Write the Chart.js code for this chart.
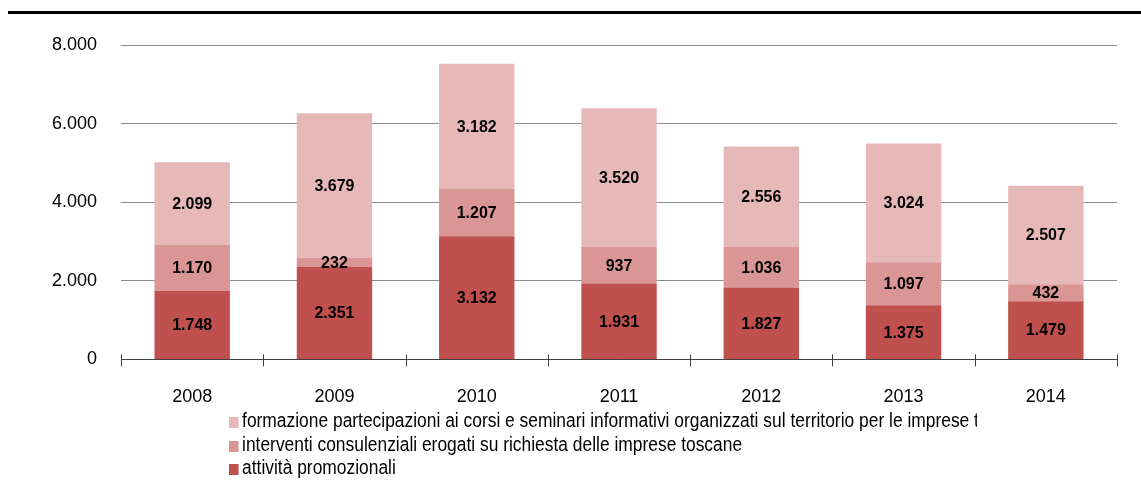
<!DOCTYPE html>
<html>
<head>
<meta charset="utf-8">
<script src="https://cdn.jsdelivr.net/npm/chart.js@4/dist/chart.umd.min.js"></script>
<style>
  body { margin: 0; background: #fff; font-family: "Liberation Sans", Arial, sans-serif; }
  #wrap { position: relative; width: 1141px; height: 482px; overflow: hidden; }
  #topline { position: absolute; left: 8px; top: 11px; width: 1133px; height: 3px; background: #000; }
  #chart { position: absolute; left: 0; top: 0; }
  #legendBox { position: absolute; left: 229px; top: 409px; width: 748px; height: 73px; overflow: hidden; }
  #legend { white-space: nowrap; font-size: 20px; color: #000; transform: scaleX(0.87); transform-origin: 0 0; }
  #legend div { height: 23.5px; line-height: 23.5px; }
  #legend span { display: inline-block; width: 11px; height: 11px; margin-right: 4px; vertical-align: -1px; }
</style>
</head>
<body>
<div id="wrap">
  <canvas id="chart" width="1141" height="482"></canvas>
  <div id="topline"></div>
  <div id="legendBox"><div id="legend"></div></div>
</div>
<script>
const years = ['2008', '2009', '2010', '2011', '2012', '2013', '2014'];
const promozionali = [1748, 2351, 3132, 1931, 1827, 1375, 1479];
const consulenze = [1170, 232, 1207, 937, 1036, 1097, 432];
const formazione = [2099, 3679, 3182, 3520, 2556, 3024, 2507];
const yTicks = [0, 2000, 4000, 6000, 8000];

const labelPromo = 'attività promozionali';
const labelCons = 'interventi consulenziali erogati su richiesta delle imprese toscane';
const labelForm = 'formazione partecipazioni ai corsi e seminari informativi organizzati sul territorio per le imprese toscane';

const FONT = '"Liberation Sans", Arial, sans-serif';

function fmt(v) {
  return String(v).replace(/\B(?=(\d{3})+(?!\d))/g, '.');
}

// draws the value in the middle of each segment
const segmentLabels = {
  id: 'segmentLabels',
  afterDatasetsDraw(chart) {
    const ctx = chart.ctx;
    ctx.save();
    ctx.font = 'bold 16px ' + FONT;
    ctx.fillStyle = '#000';
    ctx.textAlign = 'center';
    ctx.textBaseline = 'middle';
    chart.data.datasets.forEach((ds, i) => {
      chart.getDatasetMeta(i).data.forEach((bar, j) => {
        const mid = (bar.y + bar.base) / 2;
        ctx.fillText(fmt(ds.data[j]), bar.x, mid + 1);
      });
    });
    ctx.restore();
  }
};

// tick marks on the x axis crossing the axis line
const axisTicks = {
  id: 'axisTicks',
  afterDraw(chart) {
    const x = chart.scales.x, y = chart.scales.y;
    const ctx = chart.ctx;
    const base = y.getPixelForValue(0);
    ctx.save();
    ctx.strokeStyle = '#404040';
    ctx.lineWidth = 1;
    for (let i = 0; i <= years.length; i++) {
      const px = Math.round(x.left + (x.right - x.left) * i / years.length) + 0.5;
      ctx.beginPath();
      ctx.moveTo(px, base - 5);
      ctx.lineTo(px, base + 7);
      ctx.stroke();
    }
    ctx.restore();
  }
};

new Chart(document.getElementById('chart'), {
  type: 'bar',
  data: {
    labels: years,
    datasets: [
      { label: labelPromo, data: promozionali, backgroundColor: '#C0504D' },
      { label: labelCons, data: consulenze, backgroundColor: '#D99694' },
      { label: labelForm, data: formazione, backgroundColor: '#E6B9B8' }
    ]
  },
  options: {
    responsive: false,
    animation: false,
    layout: { padding: { left: 28, right: 24, top: 45, bottom: 55 } },
    plugins: { legend: { display: false }, tooltip: { enabled: false } },
    datasets: { bar: { categoryPercentage: 1, barPercentage: 0.53, borderWidth: 0 } },
    scales: {
      x: {
        stacked: true,
        grid: { display: false },
        border: { display: true, color: '#404040', width: 1 },
        ticks: { color: '#000', font: { family: FONT, size: 18 }, padding: 19, maxRotation: 0 }
      },
      y: {
        stacked: true,
        min: 0,
        max: 8000,
        afterBuildTicks(scale) { scale.ticks = yTicks.map(v => ({ value: v })); },
        grid: { color: '#8C8C8C', drawTicks: false },
        border: { display: false },
        ticks: { color: '#000', font: { family: FONT, size: 18 }, padding: 24, callback: v => fmt(v) }
      }
    }
  },
  plugins: [segmentLabels, axisTicks]
});

const legend = document.getElementById('legend');
[[labelForm, '#E6B9B8'], [labelCons, '#D99694'], [labelPromo, '#C0504D']].forEach(([t, c]) => {
  const row = document.createElement('div');
  row.innerHTML = `<span style="background:${c}"></span>${t}`;
  legend.appendChild(row);
});
</script>
</body>
</html>
